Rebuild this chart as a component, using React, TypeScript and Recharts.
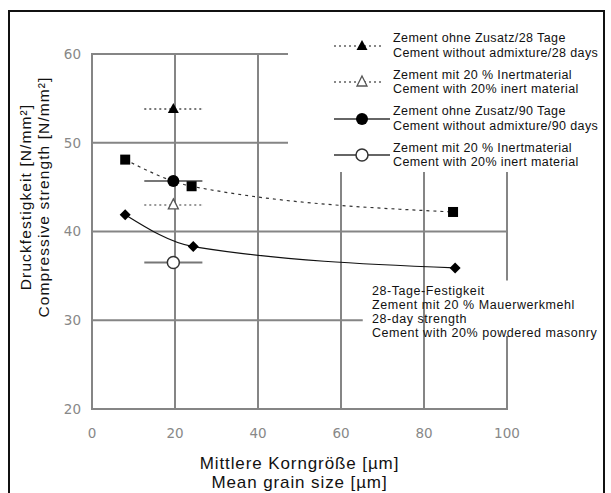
import React from 'react';
import {
  ComposedChart,
  XAxis,
  YAxis,
  Scatter,
  Line,
  ErrorBar,
  ReferenceLine,
  Legend,
} from 'recharts';

// ---- data ----
const xTicks = [0, 20, 40, 60, 80, 100];
const yTicks = [20, 30, 40, 50, 60];

// single measurements with horizontal spread (x error)
const cement28 = [{ x: 19.6, y: 53.8, xerr: 7 }];
const inert28 = [{ x: 19.6, y: 43.0, xerr: 7 }];
const cement90 = [{ x: 19.6, y: 45.7, xerr: 7 }];
const inert90 = [{ x: 19.6, y: 36.5, xerr: 7 }];

// powdered masonry series
const masonry90 = [
  { x: 8, y: 48.1 },
  { x: 24, y: 45.1 },
  { x: 87, y: 42.2 },
];
const masonry28 = [
  { x: 8, y: 41.9 },
  { x: 24.4, y: 38.3 },
  { x: 87.5, y: 35.9 },
];

// grid segments (data coordinates)
const hGrid = [
  { y: 60, x1: 0, x2: 47 },
  { y: 50, x1: 0, x2: 47 },
  { y: 40, x1: 0, x2: 100 },
  { y: 30, x1: 0, x2: 65 },
  { y: 20, x1: 0, x2: 100 },
];
const vGrid = [
  { x: 0, y1: 20, y2: 60 },
  { x: 20, y1: 20, y2: 60 },
  { x: 40, y1: 20, y2: 60 },
  { x: 60, y1: 20, y2: 46.7 },
  { x: 80, y1: 20, y2: 46.7 },
  { x: 100, y1: 34.6, y2: 46.7 },
  { x: 100, y1: 20, y2: 28.1 },
];

const legendItems = [
  { de: 'Zement ohne Zusatz/28 Tage', en: 'Cement without admixture/28 days', kind: 'triFilled' },
  { de: 'Zement mit 20 % Inertmaterial', en: 'Cement with 20% inert material', kind: 'triOpen' },
  { de: 'Zement ohne Zusatz/90 Tage', en: 'Cement without admixture/90 days', kind: 'circFilled' },
  { de: 'Zement mit 20 % Inertmaterial', en: 'Cement with 20% inert material', kind: 'circOpen' },
];

const annotationLines = [
  '28-Tage-Festigkeit',
  'Zement mit 20 % Mauerwerkmehl',
  '28-day strength',
  'Cement with 20% powdered masonry',
];

const xTitle = ['Mittlere Korngröße [µm]', 'Mean grain size [µm]'];
const yTitle = ['Druckfestigkeit [N/mm²]', 'Compressive strength [N/mm²]'];

const FONT = '"Liberation Sans", Arial, sans-serif';
const GRID = '#858585';

// ---- marker shapes ----
const TriFilled = (p: any) => {
  const { cx, cy } = p;
  return <path d={`M${cx},${cy - 6} L${cx + 5.5},${cy + 4} L${cx - 5.5},${cy + 4} Z`} fill="#000" />;
};
const TriOpen = (p: any) => {
  const { cx, cy } = p;
  return (
    <path
      d={`M${cx},${cy - 6} L${cx + 5},${cy + 4} L${cx - 5},${cy + 4} Z`}
      fill="#fff"
      stroke="#555"
      strokeWidth={1.3}
    />
  );
};
const CircFilled = (p: any) => <circle cx={p.cx} cy={p.cy} r={6} fill="#000" />;
const CircOpen = (p: any) => (
  <circle cx={p.cx} cy={p.cy} r={6} fill="#fff" stroke="#333" strokeWidth={1.5} />
);
const SquareDot = (p: any) => {
  if (p.cx == null) return null;
  return <rect key={`s${p.index}`} x={p.cx - 5} y={p.cy - 5} width={10} height={10} fill="#000" />;
};
const DiamondDot = (p: any) => {
  if (p.cx == null) return null;
  const { cx, cy } = p;
  return (
    <path
      key={`d${p.index}`}
      d={`M${cx},${cy - 5.5} L${cx + 5.5},${cy} L${cx},${cy + 5.5} L${cx - 5.5},${cy} Z`}
      fill="#000"
    />
  );
};

const LegendIcon = ({ kind }: { kind: string }) => {
  const dotted = kind === 'triFilled' || kind === 'triOpen';
  return (
    <svg width={60} height={16} style={{ display: 'block' }}>
      <line
        x1={2}
        y1={8}
        x2={dotted ? 50 : 58}
        y2={8}
        stroke={dotted ? '#888' : '#666'}
        strokeWidth={2}
        strokeDasharray={dotted ? '2 3' : undefined}
      />
      {kind === 'triFilled' && <TriFilled cx={30} cy={8} />}
      {kind === 'triOpen' && <TriOpen cx={30} cy={8} />}
      {kind === 'circFilled' && <CircFilled cx={30} cy={8} />}
      {kind === 'circOpen' && <CircOpen cx={30} cy={8} />}
    </svg>
  );
};

const renderLegend = () => (
  <div style={{ fontFamily: FONT, fontSize: 12.5, letterSpacing: 0.4, lineHeight: '14.5px', color: '#111' }}>
    {legendItems.map((it, i) => (
      <div
        key={i}
        style={{ display: 'flex', alignItems: 'center', marginTop: i === 0 ? 3 : 7.5, marginLeft: 44 }}
      >
        <LegendIcon kind={it.kind} />
        <div style={{ marginLeft: 1, whiteSpace: 'nowrap' }}>
          <div>{it.de}</div>
          <div>{it.en}</div>
        </div>
      </div>
    ))}
  </div>
);

const XTitle = (props: any) => {
  const { viewBox } = props;
  const cx = viewBox.x + viewBox.width / 2;
  return (
    <g>
      <text x={cx} y={469} fontFamily={FONT} fontSize={17} letterSpacing={0.9} fill="#111" textAnchor="middle">
        {xTitle[0]}
      </text>
      <text x={cx} y={488} fontFamily={FONT} fontSize={17} letterSpacing={0.9} fill="#111" textAnchor="middle">
        {xTitle[1]}
      </text>
    </g>
  );
};

const YTitle = () => (
  <g transform="translate(0,197) rotate(-90)">
    <text x={0} y={31} fontFamily={FONT} fontSize={15.5} letterSpacing={1.1} fill="#111" textAnchor="middle">
      {yTitle[0]}
    </text>
    <text x={0} y={48.5} fontFamily={FONT} fontSize={15.5} letterSpacing={1.1} fill="#111" textAnchor="middle">
      {yTitle[1]}
    </text>
  </g>
);

const tickStyle = { fontFamily: '"DejaVu Sans", sans-serif', fontSize: 13.5, fill: '#888' };

export default function App() {
  return (
    <div
      style={{
        position: 'absolute',
        left: 0,
        top: 0,
        width: 611,
        height: 493,
        overflow: 'hidden',
        background: '#fff',
      }}
    >
      <ComposedChart width={611} height={493} margin={{ top: 54, right: 104, bottom: 0, left: 0 }}>
        <XAxis
          type="number"
          dataKey="x"
          domain={[0, 100]}
          ticks={xTicks}
          axisLine={false}
          tickLine={false}
          tickSize={0}
          tickMargin={19}
          height={84}
          tick={tickStyle}
          label={<XTitle />}
        />
        <YAxis
          type="number"
          dataKey="y"
          domain={[20, 60]}
          ticks={yTicks}
          axisLine={false}
          tickLine={false}
          tickSize={0}
          tickMargin={11}
          width={92}
          tick={tickStyle}
          label={<YTitle />}
        />
        {hGrid.map((g, i) => (
          <ReferenceLine
            key={`h${i}`}
            segment={[
              { x: g.x1, y: g.y },
              { x: g.x2, y: g.y },
            ]}
            stroke={GRID}
            strokeWidth={2}
            strokeLinecap="square"
          />
        ))}
        {vGrid.map((g, i) => (
          <ReferenceLine
            key={`v${i}`}
            segment={[
              { x: g.x, y: g.y1 },
              { x: g.x, y: g.y2 },
            ]}
            stroke={GRID}
            strokeWidth={2}
            strokeLinecap="square"
          />
        ))}

        <Line
          data={masonry90}
          dataKey="y"
          type="monotone"
          stroke="#333"
          strokeWidth={1.2}
          strokeDasharray="3 4"
          dot={<SquareDot />}
          activeDot={false}
          isAnimationActive={false}
          legendType="none"
        />
        <Line
          data={masonry28}
          dataKey="y"
          type="monotone"
          stroke="#111"
          strokeWidth={1.2}
          dot={<DiamondDot />}
          activeDot={false}
          isAnimationActive={false}
          legendType="none"
        />

        <Scatter data={cement28} dataKey="y" shape={<TriFilled />} isAnimationActive={false}>
          <ErrorBar dataKey="xerr" direction="x" width={0} stroke="#777" strokeWidth={2} strokeDasharray="2 3" />
        </Scatter>
        <Scatter data={inert28} dataKey="y" shape={<TriOpen />} isAnimationActive={false}>
          <ErrorBar dataKey="xerr" direction="x" width={0} stroke="#999" strokeWidth={2} strokeDasharray="2 3" />
        </Scatter>
        <Scatter data={cement90} dataKey="y" shape={<CircFilled />} isAnimationActive={false}>
          <ErrorBar dataKey="xerr" direction="x" width={0} stroke="#777" strokeWidth={2} />
        </Scatter>
        <Scatter data={inert90} dataKey="y" shape={<CircOpen />} isAnimationActive={false}>
          <ErrorBar dataKey="xerr" direction="x" width={0} stroke="#777" strokeWidth={2} />
        </Scatter>

        <Legend
          layout="horizontal"
          verticalAlign="middle"
          align="center"
          content={renderLegend}
          wrapperStyle={{ left: 288, top: 28, width: 314, height: 144, background: '#fff' }}
        />
      </ComposedChart>

      <div
        style={{
          position: 'absolute',
          left: 372,
          top: 284,
          fontFamily: FONT,
          fontSize: 12.5,
          letterSpacing: 0.55,
          lineHeight: '14px',
          color: '#111',
          whiteSpace: 'nowrap',
        }}
      >
        {annotationLines.map((t, i) => (
          <div key={i}>{t}</div>
        ))}
      </div>

      <div
        style={{
          position: 'absolute',
          left: 8,
          top: 10,
          width: 597,
          height: 520,
          boxSizing: 'border-box',
          border: '2px solid #111',
          pointerEvents: 'none',
        }}
      />
    </div>
  );
}
